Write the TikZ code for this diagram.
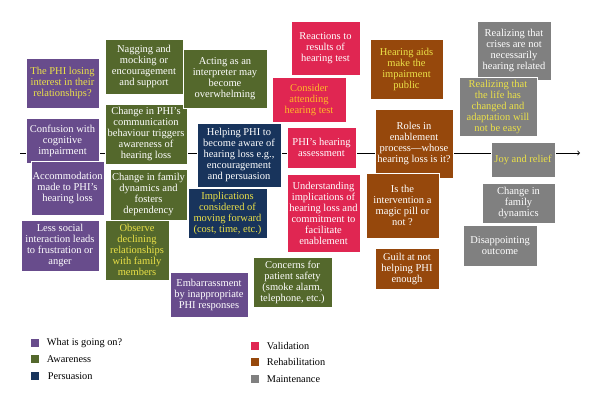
\documentclass[tikz,border=0pt]{standalone}
\usepackage{tikz}
\usepackage{xcolor}
\usepackage{fontspec}
\setmainfont{Liberation Serif}
\usetikzlibrary{positioning}

\definecolor{whatcol}{RGB}{104,76,140}
\definecolor{awarecol}{RGB}{84,104,44}
\definecolor{perscol}{RGB}{24,52,92}
\definecolor{validcol}{RGB}{224,38,82}
\definecolor{rehabcol}{RGB}{150,72,12}
\definecolor{maintcol}{RGB}{128,128,128}
\definecolor{hilite}{RGB}{236,226,72}
\definecolor{hiorange}{RGB}{255,186,40}

\tikzset{
  card/.style={draw=white, line width=0.6pt, text=white, align=center, inner sep=0pt, font=\fontsize{10.5}{11}\selectfont},
  whatbox/.style={card, fill=whatcol},
  awarebox/.style={card, fill=awarecol},
  persbox/.style={card, fill=perscol},
  validbox/.style={card, fill=validcol},
  rehabbox/.style={card, fill=rehabcol},
  maintbox/.style={card, fill=maintcol},
  legkey/.style={minimum size=8pt, inner sep=0pt},
  legtext/.style={anchor=west, inner sep=0pt, font=\fontsize{10.3}{11}\selectfont}
}

\begin{document}
\begin{tikzpicture}[x=1pt,y=-1pt]
\useasboundingbox (0,0) rectangle (600,406);

% timeline
\coordinate (tstart) at (20,153);
\coordinate (tend) at (580,153);
\draw[->, line width=0.8pt] (tstart) -- (tend);

% what is going on?
\node[whatbox, text=hilite, minimum width=73pt, minimum height=50pt] (losing) at (62.5,83) {The PHI losing\\interest in their\\relationships?};
\node[whatbox, minimum width=73pt, minimum height=45pt] (confusion) at (62.5,140.5) {Confusion with\\cognitive\\impairment};
\node[whatbox, minimum width=73pt, minimum height=54pt] (accommodation) at (67.5,188) {Accommodation\\made to PHI's\\hearing loss};
\node[whatbox, minimum width=78pt, minimum height=51pt] (lesssocial) at (60,245.5) {Less social\\interaction leads\\to frustration or\\anger};
\node[whatbox, minimum width=78pt, minimum height=45pt] (embarrass) at (209,294.5) {Embarrassment\\by inappropriate\\PHI responses};

% awareness
\node[awarebox, minimum width=78pt, minimum height=55pt] (nagging) at (144,66.5) {Nagging and\\mocking or\\encouragement\\and support};
\node[awarebox, minimum width=82pt, minimum height=60pt] (commchange) at (146,134) {Change in PHI's\\communication\\behaviour triggers\\awareness of\\hearing loss};
\node[awarebox, minimum width=77pt, minimum height=51pt] (familydyn) at (148.5,194.5) {Change in family\\dynamics and\\fosters\\dependency};
\node[awarebox, text=hilite, minimum width=64pt, minimum height=60pt] (observe) at (137,250) {Observe\\declining\\relationships\\with family\\members};
\node[awarebox, minimum width=84pt, minimum height=59pt] (interpreter) at (225,78.5) {Acting as an\\interpreter may\\become\\overwhelming};
\node[awarebox, minimum width=79pt, minimum height=50pt] (safety) at (292.5,282) {Concerns for\\patient safety\\(smoke alarm,\\telephone, etc.)};

% persuasion
\node[persbox, minimum width=84pt, minimum height=64pt] (helping) at (239,155) {Helping PHI to\\become aware of\\hearing loss e.g.,\\encouragement\\and persuasion};
\node[persbox, text=hilite, minimum width=79pt, minimum height=50pt] (implic) at (227.5,213) {Implications\\considered of\\moving forward\\(cost, time, etc.)};

% validation
\node[validbox, minimum width=69pt, minimum height=54pt] (reactions) at (325.5,48) {Reactions to\\results of\\hearing test};
\node[validbox, text=hiorange, minimum width=74pt, minimum height=45pt] (consider) at (309,99.5) {Consider\\attending\\hearing test};
\node[validbox, minimum width=69pt, minimum height=41pt] (assess) at (321.5,147.5) {PHI's hearing\\assessment};
\node[validbox, minimum width=73pt, minimum height=78pt] (understand) at (323.5,213) {Understanding\\implications of\\hearing loss and\\commitment to\\facilitate\\enablement};

% rehabilitation
\node[rehabbox, text=hilite, minimum width=73pt, minimum height=60pt] (aids) at (406.5,69) {Hearing aids\\make the\\impairment\\public};
\node[rehabbox, minimum width=78pt, minimum height=69pt] (roles) at (414,143.5) {Roles in\\enablement\\process---whose\\hearing loss is it?};
\node[rehabbox, minimum width=73pt, minimum height=65pt] (magic) at (402.5,205.5) {Is the\\intervention a\\magic pill or\\not ?};
\node[rehabbox, minimum width=64pt, minimum height=41pt] (guilt) at (407,268.5) {Guilt at not\\helping PHI\\enough};

% maintenance
\node[maintbox, minimum width=74pt, minimum height=59pt] (crises) at (514,50.5) {Realizing that\\crises are not\\necessarily\\hearing related};
\node[maintbox, text=hilite, minimum width=78pt, minimum height=59pt] (lifechanged) at (498,106.5) {Realizing that\\the life has\\changed and\\adaptation will\\not be easy};
\node[maintbox, text=hilite, minimum width=64pt, minimum height=35pt] (joy) at (523,159.5) {Joy and relief};
\node[maintbox, minimum width=73pt, minimum height=40pt] (familychange) at (518.5,203) {Change in\\family\\dynamics};
\node[maintbox, minimum width=74pt, minimum height=41pt] (disappoint) at (500,245.5) {Disappointing\\outcome};

% legend
\node[legkey, fill=whatcol] (kwhat) at (34.5,343) {};
\node[legtext, right=8pt of kwhat] (lwhat) {What is going on?};
\node[legkey, fill=awarecol] (kaware) at (34.5,359) {};
\node[legtext, right=8pt of kaware] (laware) {Awareness};
\node[legkey, fill=perscol] (kpers) at (34.5,376) {};
\node[legtext, right=9pt of kpers] (lpers) {Persuasion};
\node[legkey, fill=validcol] (kvalid) at (254.5,346) {};
\node[legtext, right=8pt of kvalid] (lvalid) {Validation};
\node[legkey, fill=rehabcol] (krehab) at (254.5,362) {};
\node[legtext, right=8pt of krehab] (lrehab) {Rehabilitation};
\node[legkey, fill=maintcol] (kmaint) at (254.5,379) {};
\node[legtext, right=8pt of kmaint] (lmaint) {Maintenance};
\end{tikzpicture}
\end{document}
